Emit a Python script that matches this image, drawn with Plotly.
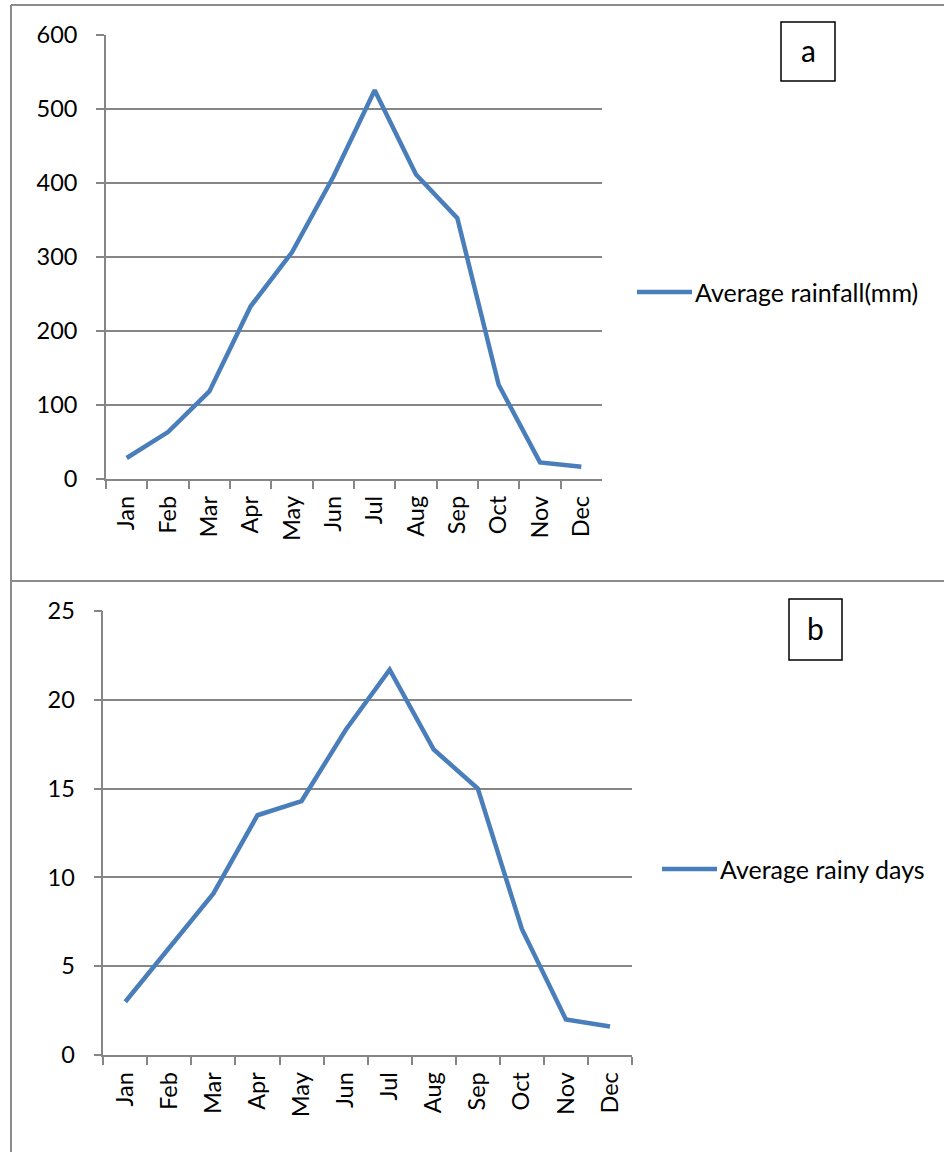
import plotly.graph_objects as go

months = ["Jan", "Feb", "Mar", "Apr", "May", "Jun", "Jul", "Aug", "Sep", "Oct", "Nov", "Dec"]
rainfall_mm = [28, 63, 118, 233, 306, 408, 525, 411, 352, 127, 22, 16]
rainy_days = [3.0, 6.1, 9.1, 13.5, 14.3, 18.3, 21.7, 17.2, 15.0, 7.1, 2.0, 1.6]
series_names = ["Average rainfall(mm)", "Average rainy days"]
panel_labels = ["a", "b"]

W, H = 944, 1152
def X(px):
    return px / W
def Y(py):
    return 1 - py / H

LINE_COLOR = "#4A7EBB"
AXIS_COLOR = "#868686"
FAMILY = "Lato, Carlito, 'Open Sans', sans-serif"
FONT = dict(family=FAMILY, size=23.5, color="black")
LEGEND_FONT = dict(family=FAMILY, size=25, color="black")
LABEL_FONT = dict(family=FAMILY, size=30, color="black")

fig = go.Figure()
fig.add_trace(go.Scatter(x=months, y=rainfall_mm, xaxis="x", yaxis="y", mode="lines",
                         line=dict(color=LINE_COLOR, width=4.5), name=series_names[0], showlegend=False))
fig.add_trace(go.Scatter(x=months, y=rainy_days, xaxis="x2", yaxis="y2", mode="lines",
                         line=dict(color=LINE_COLOR, width=4.5), name=series_names[1], showlegend=False))

def xaxis_cfg(dom, anchor):
    return dict(domain=dom, anchor=anchor, type="category", range=[-0.5, 11.5],
                showline=True, linecolor=AXIS_COLOR, linewidth=1.6,
                ticks="outside", tickson="boundaries", ticklen=8, tickcolor=AXIS_COLOR, tickwidth=1.6,
                tickangle=-90, tickfont=FONT, showgrid=False, zeroline=False, ticklabelstandoff=6,
                automargin=False)

def yaxis_cfg(dom, anchor, rng, dtick):
    return dict(domain=dom, anchor=anchor, range=rng, dtick=dtick, tick0=0,
                showline=True, linecolor=AXIS_COLOR, linewidth=1.6,
                ticks="outside", ticklen=8, tickcolor=AXIS_COLOR, tickwidth=1.6,
                showgrid=True, gridcolor=AXIS_COLOR, gridwidth=1.5, zeroline=False,
                tickfont=FONT, ticklabelstandoff=14, automargin=False)

fig.update_layout(
    width=W, height=H, autosize=False, margin=dict(l=0, r=0, t=0, b=0, pad=0),
    paper_bgcolor="white", plot_bgcolor="white", showlegend=False,
    xaxis=xaxis_cfg([X(106), X(602)], "y"),
    yaxis=yaxis_cfg([Y(478.7), Y(34.7)], "x", [0, 600], 100),
    xaxis2=xaxis_cfg([X(103.3), X(632)], "y2"),
    yaxis2=yaxis_cfg([Y(1055), Y(611)], "x2", [0, 25], 5),
)

shapes = []
border = dict(color="#8C8C8C", width=2)
# frame lines
shapes.append(dict(type="line", xref="paper", yref="paper", x0=X(11), x1=X(944), y0=Y(5), y1=Y(5), line=border))
shapes.append(dict(type="line", xref="paper", yref="paper", x0=X(11), x1=X(11), y0=Y(5), y1=Y(1152), line=border))
shapes.append(dict(type="line", xref="paper", yref="paper", x0=X(11), x1=X(944), y0=Y(581), y1=Y(581), line=border))

# legends (manual)
legend_pos = [(637, 692, 292), (662, 717, 869)]
annotations = []
for (lx0, lx1, ly), name in zip(legend_pos, series_names):
    shapes.append(dict(type="line", xref="paper", yref="paper", x0=X(lx0), x1=X(lx1), y0=Y(ly), y1=Y(ly),
                       line=dict(color=LINE_COLOR, width=4.5)))
    annotations.append(dict(xref="paper", yref="paper", x=X(lx1 + 1), y=Y(ly), xanchor="left", yanchor="middle",
                            text=name, showarrow=False, font=LEGEND_FONT))

# panel label boxes
boxes = [(781, 835, 22, 81), (789, 842, 599, 660)]
for (bx0, bx1, by0, by1), lab in zip(boxes, panel_labels):
    shapes.append(dict(type="rect", xref="paper", yref="paper", x0=X(bx0), x1=X(bx1), y0=Y(by1), y1=Y(by0),
                       line=dict(color="black", width=1.5), fillcolor="white"))
    annotations.append(dict(xref="paper", yref="paper", x=X((bx0 + bx1) / 2), y=Y((by0 + by1) / 2 - 2),
                            xanchor="center", yanchor="middle", text=lab, showarrow=False, font=LABEL_FONT))

fig.update_layout(shapes=shapes, annotations=annotations)
fig.write_html("out.html", config={"displayModeBar": False},
               post_script="document.body.style.margin='0';document.body.style.overflow='hidden';")
